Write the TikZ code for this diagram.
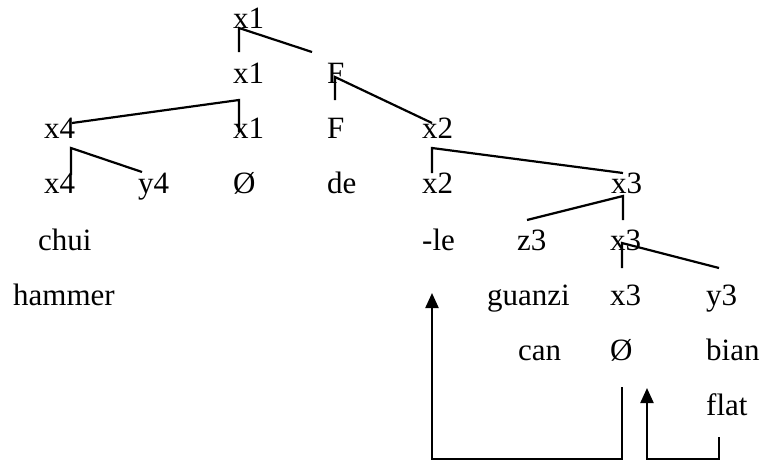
\documentclass[tikz,border=0pt]{standalone}
\usepackage{fontspec}
\setmainfont{Liberation Serif}
\usetikzlibrary{calc,arrows.meta}
\tikzset{
  lbl/.style   ={inner sep=0pt, anchor=base west, font=\fontsize{31}{37}\selectfont},
  branch/.style={line width=2.2pt},
  % movement path: right-angled line ending in a filled head
  move/.style  ={line width=2.2pt, -{Triangle[length=15pt, width=13pt]}},
}

\begin{document}
\begin{tikzpicture}[x=1pt, y=-1pt]
    \useasboundingbox (0,0) rectangle (761,461);
    \node[lbl] (xa) at (233,28) {x1};
    \node[lbl] (xb) at (233,83) {x1};
    \node[lbl] (fa) at (327,83) {F};
    \node[lbl] (x4a) at (44,138) {x4};
    \node[lbl] (xc) at (233,138) {x1};
    \node[lbl] (fb) at (327,138) {F};
    \node[lbl] (x2a) at (422,138) {x2};
    \node[lbl] (x4b) at (44,193) {x4};
    \node[lbl] (y4) at (138,193) {y4};
    \node[lbl] (nila) at (233,193) {Ø};
    \node[lbl] (de) at (327,193) {de};
    \node[lbl] (x2b) at (422,193) {x2};
    \node[lbl] (x3a) at (611,193) {x3};
    \node[lbl] (chui) at (38,250) {chui};
    \node[lbl] (le) at (422,250) {-le};
    \node[lbl] (z3) at (517,250) {z3};
    \node[lbl] (x3b) at (610,250) {x3};
    \node[lbl] (hammer) at (13,305) {hammer};
    \node[lbl] (guanzi) at (487,305) {guanzi};
    \node[lbl] (x3c) at (610,305) {x3};
    \node[lbl] (y3) at (706,305) {y3};
    \node[lbl] (can) at (518,360) {can};
    \node[lbl] (nilb) at (610,360) {Ø};
    \node[lbl] (bian) at (706,360) {bian};
    \node[lbl] (flat) at (706,415) {flat};
    % branches
    \draw[branch] ($(fa.base west)+(-15,-31)$) -- ($(xa.base west)+(6,0)$) -- ($(xb.base west)+(6,-31)$);
    \draw[branch] ($(x2a.base west)+(10,-15)$) -- ($(fa.base west)+(8,-6)$) -- ($(fb.base west)+(8,-38)$);
    \draw[branch] ($(x4a.base west)+(28,-15)$) -- ($(xb.base west)+(6,17)$) -- ($(xc.base west)+(6,-6)$);
    \draw[branch] ($(y4.base west)+(4,-21)$) -- ($(x4a.base west)+(27,10)$) -- ($(x4b.base west)+(27,-18)$);
    \draw[branch] ($(x3a.base west)+(12,-20)$) -- ($(x2a.base west)+(10,10)$) -- ($(x2b.base west)+(10,-20)$);
    \draw[branch] ($(z3.base west)+(10,-30)$) -- ($(x3a.base west)+(12,3)$) -- ($(x3b.base west)+(13,-30)$);
    \draw[branch] ($(y3.base west)+(13,-37)$) -- ($(x3b.base west)+(12,-7)$) -- ($(x3c.base west)+(12,-37)$);
    % movement
    \draw[move] ($(nilb.base west)+(12,27)$) |- ($(le.base west)+(10,209)$) -- ($(le.base west)+(10,43)$);
    \draw[move] ($(flat.base west)+(13,22)$) |- ($(nilb.base west)+(37,99)$) -- ($(nilb.base west)+(37,28)$);
  \end{tikzpicture}
\end{document}
